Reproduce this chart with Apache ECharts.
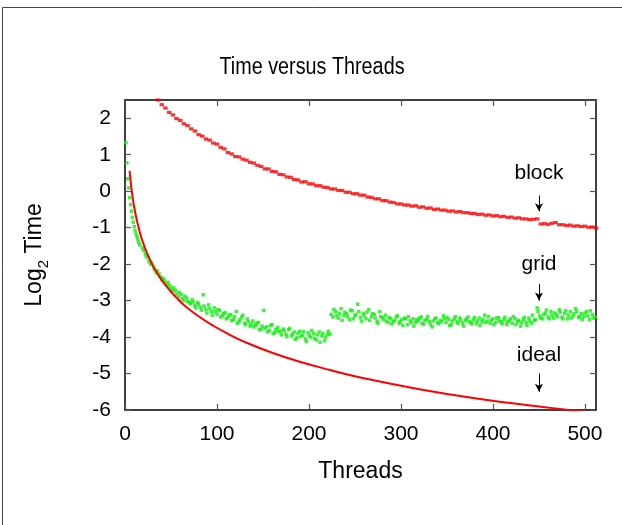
<!DOCTYPE html>
<html>
<head>
<meta charset="utf-8">
<script src="https://cdn.jsdelivr.net/npm/echarts@6/dist/echarts.min.js"></script>
<style>
html,body{margin:0;padding:0;background:#fff;}
#chart{width:622px;height:525px;}
</style>
</head>
<body>
<div id="chart"></div>
<script>
// ---- data ----
const chartTitle = 'Time versus Threads';
const xTicks = [0, 100, 200, 300, 400, 500];
const yTicks = [-6, -5, -4, -3, -2, -1, 0, 1, 2];

// "block": one value every 4 threads starting at thread 36
const blockStart = 36, blockStep = 4;
const blockTime = [
  2.50, 2.37, 2.28, 2.16, 2.09, 1.99, 1.94, 1.85, 1.80, 1.71,
  1.65, 1.55, 1.51, 1.43, 1.40, 1.32, 1.29, 1.20, 1.16, 1.06,
  1.02, 0.95, 0.94, 0.88, 0.85, 0.79, 0.77, 0.71, 0.68, 0.61,
  0.61, 0.54, 0.53, 0.46, 0.45, 0.39, 0.38, 0.32, 0.31, 0.25,
  0.26, 0.20, 0.20, 0.15, 0.15, 0.11, 0.10, 0.06, 0.06, 0.02,
  0.02, -0.03, -0.03, -0.07, -0.07, -0.11, -0.11, -0.16, -0.17, -0.21,
  -0.21, -0.26, -0.26, -0.30, -0.31, -0.35, -0.35, -0.38, -0.38, -0.41,
  -0.40, -0.44, -0.43, -0.47, -0.46, -0.50, -0.49, -0.52, -0.52, -0.55,
  -0.54, -0.57, -0.56, -0.59, -0.59, -0.61, -0.61, -0.64, -0.63, -0.66,
  -0.65, -0.68, -0.67, -0.70, -0.69, -0.72, -0.71, -0.74, -0.73, -0.76,
  -0.76, -0.78, -0.77, -0.76, -0.90, -0.89, -0.91, -0.88, -0.86, -0.92,
  -0.92, -0.94, -0.93, -0.96, -0.95, -0.97, -0.96, -0.99, -0.98, -1.01
];

// "grid": threads 1..16, then two interleaved runs every 3 threads (from 19 and from 20)
const gridHeadTime = [1.33, 0.78, 0.34, 0.09, -0.18, -0.37, -0.55, -0.72, -0.85, -0.97, -1.08, -1.17, -1.25, -1.32, -1.40, -1.47];
const gridTailStep = 3;
const gridTailAStart = 19;
const gridTailA = [
  -1.55, -1.72, -1.83, -2.01, -2.08, -2.24, -2.27, -2.43, -2.44, -2.58,
  -2.60, -2.74, -2.72, -2.90, -2.83, -3.00, -2.93, -3.06, -2.98, -3.14,
  -3.05, -3.18, -2.84, -3.24, -3.12, -3.30, -3.20, -3.38, -3.27, -3.42,
  -3.33, -3.47, -3.38, -3.52, -3.30, -3.58, -3.45, -3.62, -3.50, -3.70,
  -3.56, -3.68, -3.60, -3.78, -3.27, -3.72, -3.82, -3.66, -3.88, -3.74,
  -3.85, -3.78, -3.92, -3.80, -3.97, -3.86, -4.02, -3.84, -3.95, -4.05,
  -3.88, -4.00, -3.90, -4.08, -3.86, -3.97, -4.10, -3.93, -3.92, -3.45,
  -3.30, -3.48, -3.22, -3.40, -3.36, -3.52, -3.28, -3.42, -3.10, -3.46,
  -3.35, -3.50, -3.25, -3.44, -3.38, -3.58, -3.30, -3.47, -3.40, -3.60,
  -3.50, -3.58, -3.45, -3.62, -3.52, -3.48, -3.66, -3.55, -3.50, -3.60,
  -3.56, -3.45, -3.65, -3.52, -3.58, -3.72, -3.50, -3.60, -3.54, -3.42,
  -3.60, -3.52, -3.66, -3.50, -3.58, -3.48, -3.62, -3.55, -3.45, -3.60,
  -3.52, -3.64, -3.48, -3.58, -3.40, -3.56, -3.62, -3.50, -3.60, -3.47,
  -3.58, -3.52, -3.66, -3.55, -3.62, -3.50, -3.58, -3.70, -3.52, -3.60,
  -3.48, -3.62, -3.55, -3.20, -3.42, -3.50, -3.35, -3.45, -3.30, -3.48,
  -3.38, -3.25, -3.45, -3.35, -3.50, -3.30, -3.42, -3.22, -3.46, -3.36,
  -3.44, -3.30, -3.52, -3.38, -3.45
];
const gridTailBStart = 20;
const gridTailB = [
  -1.62, -1.78, -1.93, -1.97, -2.15, -2.18, -2.35, -2.38, -2.52, -2.50,
  -2.68, -2.65, -2.82, -2.78, -2.95, -2.88, -3.02, -3.08, -3.04, -3.20,
  -3.10, -3.26, -3.15, -3.34, -3.22, -3.40, -3.30, -3.25, -3.45, -3.36,
  -3.50, -3.40, -3.55, -3.44, -3.62, -3.52, -3.40, -3.66, -3.58, -3.64,
  -3.72, -3.62, -3.80, -3.70, -3.76, -3.86, -3.68, -3.90, -3.80, -3.84,
  -3.94, -3.82, -3.99, -3.76, -3.92, -4.06, -3.90, -3.98, -3.85, -4.12,
  -3.96, -3.82, -4.04, -3.94, -4.14, -3.90, -4.00, -3.84, -3.38, -3.24,
  -3.42, -3.36, -3.54, -3.32, -3.44, -3.26, -3.50, -3.38, -3.30, -3.56,
  -3.42, -3.32, -3.54, -3.36, -3.48, -3.62, -3.44, -3.52, -3.56, -3.46,
  -3.64, -3.54, -3.42, -3.58, -3.68, -3.50, -3.44, -3.60, -3.70, -3.52,
  -3.48, -3.62, -3.54, -3.44, -3.66, -3.56, -3.48, -3.64, -3.58, -3.50,
  -3.46, -3.68, -3.56, -3.44, -3.62, -3.54, -3.70, -3.50, -3.58, -3.64,
  -3.46, -3.56, -3.68, -3.52, -3.60, -3.44, -3.54, -3.66, -3.48, -3.56,
  -3.64, -3.46, -3.58, -3.50, -3.44, -3.66, -3.54, -3.60, -3.46, -3.68,
  -3.56, -3.40, -3.52, -3.30, -3.48, -3.38, -3.26, -3.50, -3.40, -3.34,
  -3.44, -3.32, -3.50, -3.28, -3.40, -3.48, -3.36, -3.30, -3.44, -3.52,
  -3.34, -3.42, -3.28, -3.48
];

// "ideal" curve
const idealThreads = [5, 6, 7, 8, 9, 10, 12, 14, 16, 18, 20, 24, 28, 32, 40, 48, 56, 64, 80, 96, 112, 128, 160, 192, 224, 256, 320, 384, 448, 480, 512];
const idealTime = [0.56, 0.30, 0.08, -0.12, -0.29, -0.44, -0.70, -0.92, -1.12, -1.29, -1.44, -1.70, -1.92, -2.12, -2.44, -2.70, -2.92, -3.12, -3.43, -3.69, -3.91, -4.11, -4.43, -4.69, -4.91, -5.11, -5.43, -5.69, -5.90, -5.99, -6.09];

// annotations
const noteTexts = ['block', 'grid', 'ideal'];
const noteThread = [450, 450, 450];
const noteTextTime = [0.5, -2.0, -4.5];
const noteArrowFrom = [-0.12, -2.55, -5.0];
const noteArrowTo = [-0.55, -3.0, -5.5];

// ---- build ----
const blockData = blockTime.map((v, i) => [blockStart + i * blockStep, v]);
const gridData = gridHeadTime.map((v, i) => [i + 1, v])
  .concat(gridTailA.map((v, i) => [gridTailAStart + i * gridTailStep, v]))
  .concat(gridTailB.map((v, i) => [gridTailBStart + i * gridTailStep, v]));
const idealData = idealThreads.map((t, i) => [t, idealTime[i]]);

const FONT = "'Liberation Sans', Arial, Helvetica, sans-serif";
const chart = echarts.init(document.getElementById('chart'), null, {renderer: 'canvas'});

const xLabelFmt = v => (xTicks.indexOf(v) >= 0 ? String(v) : '');
const yLabelFmt = v => (yTicks.indexOf(v) >= 0 ? String(v) : '');

const axisCommon = {
  axisLine: {show: true, onZero: false, lineStyle: {color: '#000', width: 1.5}},
  axisTick: {show: true, inside: true, length: 6, lineStyle: {color: '#555', width: 1.2}},
  splitLine: {show: false}
};

const option = {
  animation: false,
  backgroundColor: '#fff',
  grid: {left: 125, right: 26, top: 100, bottom: 115, containLabel: false},
  xAxis: [
    Object.assign({
      type: 'value', min: 0, max: 512, interval: 100, position: 'bottom',
      name: 'Threads', nameLocation: 'middle', nameGap: 50,
      nameTextStyle: {fontFamily: FONT, fontSize: 23, color: '#000'},
      axisLabel: {show: true, formatter: xLabelFmt, showMaxLabel: false, margin: 14,
        fontFamily: FONT, fontSize: 21, color: '#000'}
    }, axisCommon),
    Object.assign({
      type: 'value', min: 0, max: 512, interval: 100, position: 'top',
      axisLabel: {show: false}
    }, axisCommon)
  ],
  yAxis: [
    Object.assign({
      type: 'value', min: -6, max: 2.5, interval: 1, position: 'left',
      name: '{a|Log}{b|2}{a| Time}', nameLocation: 'middle', nameGap: 60,
      nameTextStyle: {
        fontFamily: FONT, fontSize: 23, color: '#000',
        rich: {
          a: {fontFamily: FONT, fontSize: 23, color: '#000', lineHeight: 26, verticalAlign: 'top'},
          b: {fontFamily: FONT, fontSize: 15, color: '#000', lineHeight: 42}
        }
      },
      axisLabel: {show: true, formatter: yLabelFmt, showMaxLabel: false, margin: 14,
        fontFamily: FONT, fontSize: 21, color: '#000'}
    }, axisCommon),
    Object.assign({
      type: 'value', min: -6, max: 2.5, interval: 1, position: 'right',
      axisLabel: {show: false}
    }, axisCommon)
  ],
  graphic: [
    {type: 'line', shape: {x1: 2.5, y1: 7.5, x2: 2.5, y2: 525}, style: {stroke: '#444', lineWidth: 1}},
    {type: 'line', shape: {x1: 2.5, y1: 7.5, x2: 622, y2: 7.5}, style: {stroke: '#444', lineWidth: 1}},
    {type: 'text', x: 312, y: 68, scaleX: 0.86, scaleY: 1,
      style: {text: chartTitle, fontFamily: FONT, fontSize: 23, fill: '#000',
        align: 'center', verticalAlign: 'middle'}}
  ],
  series: [
    {
      name: 'block', type: 'scatter', data: blockData,
      symbol: 'rect', symbolSize: [4.5, 3.2], itemStyle: {color: '#ff0000'}, silent: true
    },
    {
      name: 'grid', type: 'scatter', data: gridData,
      symbol: 'rect', symbolSize: 3.5, itemStyle: {color: '#11ee11'}, silent: true
    },
    {
      name: 'ideal', type: 'line', data: idealData, smooth: true, showSymbol: false,
      lineStyle: {color: '#ff0000', width: 2}, silent: true, clip: true,
      markLine: {
        silent: true, symbol: ['none', 'arrow'], symbolSize: [6, 8],
        lineStyle: {color: '#000', width: 1, type: 'solid'},
        label: {show: false},
        data: noteTexts.map((t, i) => [
          {coord: [noteThread[i], noteArrowFrom[i]]},
          {coord: [noteThread[i], noteArrowTo[i]]}
        ])
      },
      markPoint: {
        silent: true, symbol: 'circle', symbolSize: 0,
        label: {show: true, position: 'inside', fontFamily: FONT, fontSize: 21, color: '#000',
          formatter: p => p.name},
        data: noteTexts.map((t, i) => ({name: t, coord: [noteThread[i], noteTextTime[i]]}))
      }
    }
  ]
};
chart.setOption(option);
</script>
</body>
</html>
